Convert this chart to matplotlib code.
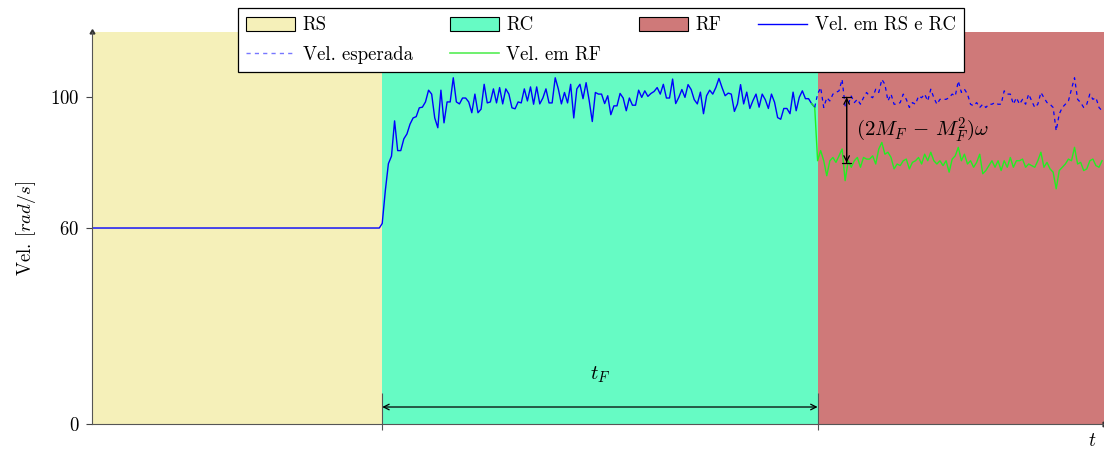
import numpy as np
import matplotlib
matplotlib.use("Agg")
import matplotlib.pyplot as plt
from matplotlib.patches import Patch
from matplotlib.lines import Line2D

plt.rcParams['font.family'] = ['cmr10', 'DejaVu Serif']
plt.rcParams['mathtext.fontset'] = 'cm'
plt.rcParams['axes.unicode_minus'] = False
plt.rcParams['axes.formatter.use_mathtext'] = True

# limites das regioes (tempo)
t_rs = 3.0
t_rc = 7.5
t_end = 10.46

# velocidade constante em RS
vel_rs = [60.0, 60.0]

# velocidade em RC
vel_rc = [61.4, 71.4, 79.7, 82.0, 92.8, 83.7, 83.7, 87.3, 88.8, 91.8, 93.7, 94.1,
          96.8, 97.0, 98.6, 102.2, 101.0, 93.7, 90.7, 102.2, 92.2, 98.6, 98.6, 106.0,
          98.6, 98.0, 99.8, 99.8, 98.6, 95.3, 101.0, 95.3, 96.4, 104.0, 98.3, 98.6,
          102.6, 98.3, 103.0, 98.0, 102.6, 101.0, 96.8, 96.5, 98.6, 98.3, 102.6, 98.9,
          103.2, 97.9, 103.2, 98.0, 99.8, 102.6, 98.3, 98.3, 106.0, 102.6, 98.0, 101.5,
          98.3, 104.0, 93.7, 102.6, 104.0, 99.6, 104.5, 99.0,
          92.6, 101.5, 101.0, 101.0, 98.1, 100.5, 94.7, 97.4, 97.4, 101.2, 99.8, 95.9,
          99.8, 97.6, 97.6, 102.2, 100.0, 102.0, 100.3, 101.2, 101.8, 103.0, 101.0, 104.0,
          99.8, 99.8, 105.6, 98.1, 100.0, 102.4, 100.0, 103.9, 102.4, 99.3, 98.0, 101.6,
          95.0, 100.5, 102.2, 101.0, 103.0, 105.8, 103.0, 100.5, 101.3, 101.0, 95.7, 98.0,
          103.9, 98.0, 101.6, 96.6, 99.0, 101.0, 97.0, 101.0, 99.3, 96.6, 101.0, 98.5,
          93.8, 93.3, 96.6, 96.6, 95.0, 101.6, 95.9, 100.0, 102.0, 99.6, 99.6, 98.1, 97.0]

# velocidade em RF
vel_rf = [80.6, 83.7, 80.6, 76.0, 80.6, 81.6, 80.1, 82.1, 84.2, 74.5, 80.6, 78.6,
          80.6, 81.6, 78.6, 81.6, 81.1, 81.1, 82.1, 79.6, 84.2, 86.2, 82.6, 83.2,
          81.6, 78.1, 79.6, 79.1, 80.6, 81.1, 78.1, 80.1, 80.6, 81.6, 79.6, 82.6,
          80.6, 83.2, 80.6, 79.6, 80.6, 79.1, 80.6, 77.1, 81.1, 82.1, 84.7, 80.6,
          82.6, 79.6, 80.6, 78.6, 80.1, 82.6, 76.6, 77.6, 79.1, 80.6, 78.6, 80.6,
          77.6, 80.6, 78.6, 81.6, 78.6, 80.6, 80.6, 81.1, 78.6, 79.6, 79.1, 78.6,
          80.6, 83.2, 78.6, 80.1, 78.1, 77.1, 72.0, 77.6, 78.6, 79.6, 81.1, 80.6,
          84.7, 79.6, 80.1, 77.6, 78.1, 80.6, 81.1, 79.1, 78.6, 80.6]

# velocidade esperada em RF
vel_esp = [101.0, 103.0, 96.9, 99.9, 98.9, 101.0, 101.5, 102.0, 105.5, 97.4, 97.9, 100.4,
           98.4, 99.4, 97.9, 99.9, 101.5, 100.4, 99.9, 102.5, 101.5, 105.5, 104.0, 98.9,
           101.0, 97.9, 97.9, 98.4, 101.0, 99.4, 96.9, 98.4, 97.9, 100.4, 99.9, 101.0,
           98.9, 102.5, 99.9, 97.9, 99.4, 99.4, 99.4, 99.9, 101.0, 100.4, 105.0, 101.5,
           102.5, 101.0, 97.9, 97.4, 98.4, 96.9, 97.9, 96.9, 97.9, 97.9, 98.4, 97.9,
           97.9, 102.0, 101.0, 101.0, 97.9, 99.9, 97.9, 99.4, 97.9, 101.0, 98.9, 96.9,
           97.9, 101.5, 99.9, 98.4, 97.9, 96.9, 89.8, 94.9, 96.9, 97.9, 98.9, 102.5,
           106.0, 99.4, 98.4, 96.9, 97.9, 101.0, 99.4, 99.9, 96.9, 95.9]

cor_rs = '#f5f0b9'
cor_rc = '#66fbc4'
cor_rf = '#cf7979'
azul = '#0000ff'
verde = '#22ee22'

fig = plt.figure(figsize=(11.04, 4.5), dpi=100)
ax = fig.add_axes([0.0833, 0.0578, 0.9167, 0.871])

ax.axvspan(0, t_rs, color=cor_rs, lw=0)
ax.axvspan(t_rs, t_rc, color=cor_rc, lw=0)
ax.axvspan(t_rc, t_end, color=cor_rf, lw=0)

t1 = [0, t_rs - 0.03]
t2 = np.linspace(t_rs, t_rc - 0.03, len(vel_rc))
ax.plot(np.concatenate([t1, t2]), vel_rs + vel_rc, color=azul, lw=1)

t3 = np.linspace(t_rc, t_end - 0.02, len(vel_rf))
ax.plot(np.concatenate([t2[-2:], t3]), vel_rc[-2:] + vel_rf, color=verde, lw=1)
ax.plot(np.concatenate([t2[-1:], t3]), vel_rc[-1:] + vel_esp, color=azul, lw=0.9,
        ls=(0, (3, 3)))

ax.set_xlim(0, t_end)
ax.set_ylim(0, 120)
ax.set_yticks([0, 60, 100])
ax.set_xticks([])
ax.tick_params(axis='y', labelsize=13.5, length=4, color='#444444', pad=5)
for s in ['top', 'right']:
    ax.spines[s].set_visible(False)
for s in ['left', 'bottom']:
    ax.spines[s].set_color('#555555')
    ax.spines[s].set_linewidth(0.8)
ax.plot(0, 1, marker=(3, 0, 0), color='#333333', ms=4, transform=ax.transAxes, clip_on=False)
ax.plot(1, 0, marker=(3, 0, -90), color='#333333', ms=4, transform=ax.transAxes, clip_on=False)

# marcas nas fronteiras das regioes
ax.vlines([t_rs, t_rc], -1.9, 9.5, color='#555555', lw=0.8, clip_on=False)

ax.set_ylabel('Vel. $[rad/s]$', fontsize=13.5, labelpad=9)
ax.text(t_end - 0.12, -2.5, '$t$', fontsize=14, ha='center', va='top')

# seta t_F
ax.annotate('', xy=(t_rs, 5.2), xytext=(t_rc, 5.2),
            arrowprops=dict(arrowstyle='<->', color='black', lw=0.9, shrinkA=0, shrinkB=0))
ax.text((t_rs + t_rc) / 2, 15, '$t_F$', fontsize=15, ha='center', va='center')

# seta (2M_F - M_F^2) omega
x_seta = t_rc + 0.3
ax.annotate('', xy=(x_seta, 100), xytext=(x_seta, 80),
            arrowprops=dict(arrowstyle='|-|, widthA=0.35, widthB=0.35', color='black', lw=0.9,
                            shrinkA=0, shrinkB=0))
ax.annotate('', xy=(x_seta, 100), xytext=(x_seta, 80),
            arrowprops=dict(arrowstyle='<->', color='black', lw=0.9, shrinkA=0, shrinkB=0))
ax.text(x_seta + 0.1, 90, r'$(2M_F\,-\,M_F^2)\omega$', fontsize=15, ha='left', va='center')

handles = [
    Patch(facecolor=cor_rs, edgecolor='black', lw=0.8),
    Line2D([], [], color='#7777ff', lw=1, ls=(0, (3, 3))),
    Patch(facecolor=cor_rc, edgecolor='black', lw=0.8),
    Line2D([], [], color='#55ee55', lw=1.2),
    Patch(facecolor=cor_rf, edgecolor='black', lw=0.8),
    Line2D([], [], color=azul, lw=1),
]
labels = ['RS', 'Vel. esperada', 'RC', 'Vel. em RF', 'RF', 'Vel. em RS e RC']
leg = ax.legend(handles, labels, ncol=4, loc='upper center', bbox_to_anchor=(0.503, 1.061),
                fontsize=13.5, frameon=True, fancybox=False, framealpha=1,
                edgecolor='black', handlelength=2.6, handleheight=0.8, borderaxespad=0,
                columnspacing=2.0, handletextpad=0.4, borderpad=0.45, labelspacing=0.6)
leg.get_frame().set_linewidth(0.9)

fig.savefig('out.png', dpi=100)
